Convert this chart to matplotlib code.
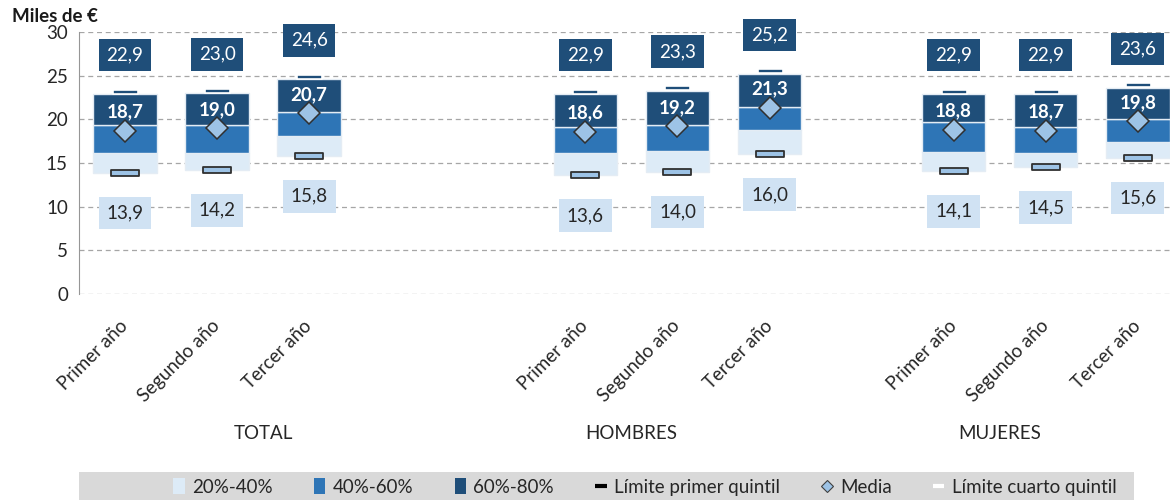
import matplotlib
matplotlib.use("Agg")
import matplotlib.pyplot as plt
import numpy as np
from matplotlib.patches import Patch, Rectangle
from matplotlib.lines import Line2D
from matplotlib.path import Path
import matplotlib.transforms as mtransforms

plt.rcParams['font.family'] = ['Lato', 'DejaVu Sans']

# ---- data ----
groups = ['TOTAL', 'HOMBRES', 'MUJERES']
years = ['Primer año', 'Segundo año', 'Tercer año']
p20 = [13.9, 14.2, 15.8, 13.6, 14.0, 16.0, 14.1, 14.5, 15.6]   # límite primer quintil
p40 = [16.2, 16.2, 18.1, 16.2, 16.4, 18.8, 16.3, 16.2, 17.4]
p60 = [19.3, 19.3, 20.8, 19.1, 19.4, 21.4, 19.7, 19.1, 20.0]
p80 = [22.9, 23.0, 24.6, 22.9, 23.3, 25.2, 22.9, 22.9, 23.6]   # límite cuarto quintil
media = [18.7, 19.0, 20.7, 18.6, 19.2, 21.3, 18.8, 18.7, 19.8]
yticks = [0, 5, 10, 15, 20, 25, 30]
legend_labels = ['20%-40%', '40%-60%', '60%-80%', 'Límite primer quintil', 'Media',
                 'Límite cuarto quintil']

# ---- styles ----
C_LIGHT = '#DDEBF7'
C_MID = '#2E75B6'
C_DARK = '#1F4E79'
C_LBL = '#D0E2F3'
C_DIAM = '#9DC3E6'
C_TXT = '#262626'
FS = 13.5

fmt = lambda v: f"{v:.1f}".replace('.', ',')

# layout: each group occupies 4 slots
slot_offset = [0, 1, 1]
x = []
for g in range(len(groups)):
    for k in range(len(years)):
        x.append(4 * g + slot_offset[g] + k)
x = np.array(x, dtype=float)
p20a, p40a, p60a, p80a, meda = map(np.array, (p20, p40, p60, p80, media))

fig = plt.figure(figsize=(11.76, 5.0), dpi=100)
ax = fig.add_axes([79 / 1176, 1 - 294 / 500, (1170 - 79) / 1176, (294 - 32) / 500])
ax.set_xlim(-0.5, 11.35)
ax.set_ylim(0, 30)

W = 0.69
ec = '#E4ECF4'
ax.bar(x, p40a - p20a, bottom=p20a, width=W, color=C_LIGHT, edgecolor=ec, linewidth=1, zorder=2)
ax.bar(x, p60a - p40a, bottom=p40a, width=W, color=C_MID, edgecolor=ec, linewidth=1, zorder=2)
ax.bar(x, p80a - p60a, bottom=p60a, width=W, color=C_DARK, edgecolor=ec, linewidth=1, zorder=2)

# quintile markers
rect_marker = Path([(-1, -0.22), (1, -0.22), (1, 0.22), (-1, 0.22), (-1, -0.22)],
                   [Path.MOVETO, Path.LINETO, Path.LINETO, Path.LINETO, Path.CLOSEPOLY])
ax.plot(x, p20a, linestyle='none', marker=rect_marker, markersize=20,
        markerfacecolor=C_DIAM, markeredgecolor='#303030', markeredgewidth=1.3, zorder=4)
up = mtransforms.offset_copy(ax.transData, fig=fig, x=0, y=2.5, units='dots')
rect_marker2 = Path([(-1, -0.15), (1, -0.15), (1, 0.15), (-1, 0.15), (-1, -0.15)],
                    [Path.MOVETO, Path.LINETO, Path.LINETO, Path.LINETO, Path.CLOSEPOLY])
ax.plot(x, p80a, linestyle='none', marker=rect_marker2, markersize=18, transform=up,
        markerfacecolor=C_DARK, markeredgecolor='white', markeredgewidth=1.2, zorder=4)

# media diamonds
ax.plot(x, meda, linestyle='none', marker='D', markersize=11,
        markerfacecolor=C_DIAM, markeredgecolor='#303030', markeredgewidth=1.1, zorder=5)

# labels
for xi, a, b, m in zip(x, p20a, p80a, meda):
    ax.annotate(fmt(b), (xi, b), xytext=(0, 28), textcoords='offset points',
                ha='center', va='center', fontsize=FS, color='white', zorder=6,
                bbox=dict(boxstyle='square,pad=0.42', fc=C_DARK, ec='none'))
    ax.annotate(fmt(a), (xi, a), xytext=(0, -29), textcoords='offset points',
                ha='center', va='center', fontsize=FS, color=C_TXT, zorder=6,
                bbox=dict(boxstyle='square,pad=0.42', fc=C_LBL, ec='none'))
    ax.annotate(fmt(m), (xi, m), xytext=(0, 13.5), textcoords='offset points',
                ha='center', va='center', fontsize=FS, color='white', fontweight='bold',
                zorder=6)

# axes styling
ax.set_yticks(yticks)
ax.set_yticklabels([str(t) for t in yticks], fontsize=FS, color=C_TXT)
ax.yaxis.grid(True, linestyle=(0, (4, 3)), color='#A6A6A6', linewidth=0.9, zorder=0)
ax.set_axisbelow(True)
for s in ['top', 'right', 'bottom']:
    ax.spines[s].set_visible(False)
ax.spines['left'].set_color('#969696')
ax.tick_params(axis='y', length=0, pad=8)
ax.set_xticks(x)
ax.set_xticklabels(years * len(groups), rotation=45, ha='right', va='center',
                   rotation_mode='anchor', fontsize=FS, color=C_TXT)
ax.tick_params(axis='x', length=0, pad=21)

for g, name in enumerate(groups):
    ax.text(4 * g + 1.5, -16.0, name, ha='center', va='center', fontsize=FS, color=C_TXT,
            transform=ax.transData, clip_on=False)

fig.text(12 / 1176, 1 - 17 / 500, 'Miles de €', fontsize=FS, fontweight='bold',
         color='#1a1a1a', ha='left', va='center')

# legend band
fig.patches.append(Rectangle((79 / 1176, 0), (1134 - 79) / 1176, 28 / 500,
                             transform=fig.transFigure, facecolor='#D9D9D9',
                             edgecolor='none', zorder=0))
handles = [
    Patch(facecolor=C_LIGHT, edgecolor='none'),
    Patch(facecolor=C_MID, edgecolor='none'),
    Patch(facecolor=C_DARK, edgecolor='none'),
    Line2D([], [], color='black', linewidth=3, solid_capstyle='butt'),
    Line2D([], [], linestyle='none', marker='D', markersize=6, markerfacecolor=C_DIAM,
           markeredgecolor='#404040', markeredgewidth=0.8),
    Line2D([], [], color='white', linewidth=3, solid_capstyle='butt'),
]
fig.legend(handles, legend_labels, ncol=6, loc='center', bbox_to_anchor=(645 / 1176, 1 - 487 / 500),
           frameon=False, fontsize=FS, handlelength=0.6, handleheight=0.9, handletextpad=0.4,
           columnspacing=2.2, labelcolor=C_TXT)

fig.savefig('out.png', dpi=100)
